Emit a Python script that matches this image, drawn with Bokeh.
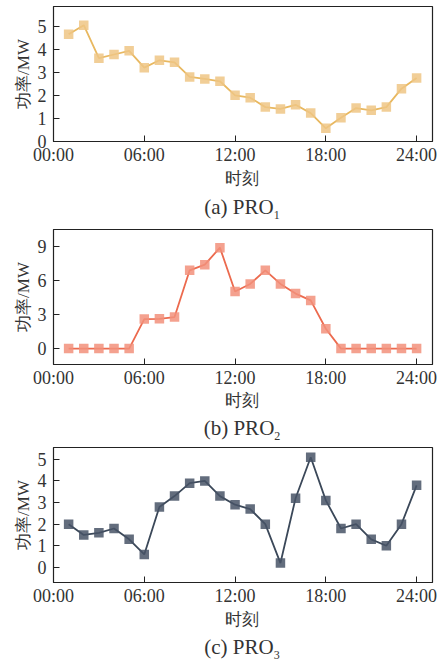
from bokeh.plotting import figure
from bokeh.models import Div, FixedTicker, Range1d
from bokeh.layouts import column
from bokeh.embed import file_html
from bokeh.resources import INLINE

hours = list(range(1, 25))
pro1 = [4.65, 5.04, 3.61, 3.77, 3.93, 3.2, 3.52, 3.43, 2.8, 2.71, 2.61, 2.0,
        1.9, 1.49, 1.41, 1.59, 1.23, 0.57, 1.03, 1.45, 1.35, 1.49, 2.29, 2.75]
pro2 = [0, 0, 0, 0, 0, 2.6, 2.63, 2.78, 6.9, 7.4, 8.9, 5.03,
        5.7, 6.9, 5.7, 4.85, 4.25, 1.75, 0, 0, 0, 0, 0, 0]
pro3 = [2.0, 1.5, 1.6, 1.8, 1.3, 0.6, 2.8, 3.3, 3.9, 4.0, 3.3, 2.9,
        2.7, 2.0, 0.2, 3.2, 5.1, 3.1, 1.8, 2.0, 1.3, 1.0, 2.0, 3.8]

x_ticks = [0, 6, 12, 18, 24]
x_tick_labels = ["00:00", "06:00", "12:00", "18:00", "24:00"]
y_ticks = [[0, 1, 2, 3, 4, 5], [0, 3, 6, 9], [0, 1, 2, 3, 4, 5]]
y_ranges = [(0, 5.85), (-1.4, 10.5), (-0.7, 5.55)]
captions = [("(a) PRO", "1"), ("(b) PRO", "2"), ("(c) PRO", "3")]
y_label = "功率/MW"
x_label = "时刻"
line_colors = ["#E8B860", "#EC6A4E", "#3B4859"]
marker_colors = ["#EFC585", "#F2917B", "#485466"]
series = [pro1, pro2, pro3]

# layout per panel: top border, caption block height, x-label centre, caption centre
top_borders = [6, 4, 4]
block_heights = [54, 49, 52]
xlab_centres = [7, 6, 7]
cap_centres = [36, 34, 35]
FRAME_H = 135
BOTTOM = 30

FONT = "Liberation Serif"
TXT = "#333333"

items = []
for i in range(3):
    t = top_borders[i]
    p = figure(output_backend="svg", toolbar_location=None,
               width=440, height=t + FRAME_H + BOTTOM,
               min_border_left=53, min_border_right=8,
               min_border_top=t, min_border_bottom=BOTTOM,
               x_range=Range1d(0, 25.05), y_range=Range1d(*y_ranges[i]))
    p.grid.visible = False
    p.outline_line_color = "#222222"
    p.outline_line_width = 1.2
    p.background_fill_color = "white"
    p.border_fill_color = "white"
    p.line(hours, series[i], line_color=line_colors[i], line_width=1.8)
    p.scatter(hours, series[i], marker="square", size=9.5,
              fill_color=marker_colors[i], line_color=None, fill_alpha=0.85)
    p.xaxis.ticker = FixedTicker(ticks=x_ticks)
    p.xaxis.major_label_overrides = {t_: l for t_, l in zip(x_ticks, x_tick_labels)}
    p.yaxis.ticker = FixedTicker(ticks=y_ticks[i])
    for ax in (p.xaxis, p.yaxis):
        ax.major_tick_in = 6
        ax.major_tick_out = 0
        ax.minor_tick_line_color = None
        ax.axis_line_color = "#222222"
        ax.major_tick_line_color = "#222222"
        ax.major_label_text_font = FONT
        ax.major_label_text_font_size = "18px"
        ax.major_label_text_color = TXT
        ax.axis_label_text_font = FONT
        ax.axis_label_text_font_size = "17px"
        ax.axis_label_text_font_style = "normal"
        ax.axis_label_text_color = TXT
    p.xaxis.major_label_standoff = 3
    p.yaxis.major_label_standoff = 7
    p.yaxis.axis_label = y_label
    p.yaxis.axis_label_standoff = 2
    cap, sub = captions[i]
    bh = block_heights[i]
    xc = xlab_centres[i]
    cc = cap_centres[i]
    html = (
        f"<div style=\"position:relative;width:440px;height:{bh}px;font-family:'{FONT}';color:{TXT};\">"
        f"<div style=\"position:absolute;left:142px;width:200px;top:{xc - 9}px;height:20px;"
        f"line-height:20px;text-align:center;font-size:17px;\">{x_label}</div>"
        f"<div style=\"position:absolute;left:142px;width:200px;top:{cc - 12}px;height:24px;"
        f"line-height:24px;text-align:center;font-size:21px;\">{cap}"
        f"<sub style=\"font-size:12px;line-height:0\">{sub}</sub></div>"
        f"</div>"
    )
    d = Div(text=html, width=440, height=bh, styles={"margin": "0", "padding": "0"})
    items.extend([p, d])

layout = column(*items, spacing=0)
open("out.html", "w").write(file_html(layout, INLINE))
